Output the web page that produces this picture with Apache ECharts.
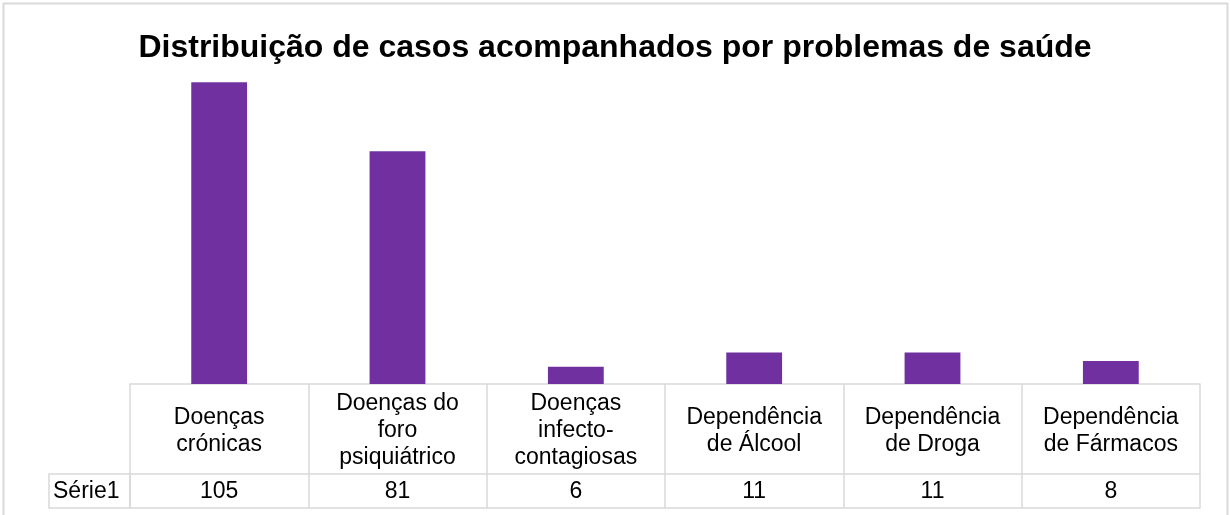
<!DOCTYPE html>
<html>
<head>
<meta charset="utf-8">
<script src="https://cdn.jsdelivr.net/npm/echarts@6/dist/echarts.min.js"></script>
<style>
  html, body { margin: 0; padding: 0; background: #fff; }
  #chart { width: 1230px; height: 515px; }
</style>
</head>
<body>
<div id="chart"></div>
<script>
// Categories of health problems and the number of followed cases in each
const titleText = 'Distribuição de casos acompanhados por problemas de saúde';
const seriesName = 'Série1';
const categories = [
  'Doenças\ncrónicas',
  'Doenças do\nforo\npsiquiátrico',
  'Doenças\ninfecto-\ncontagiosas',
  'Dependência\nde Álcool',
  'Dependência\nde Droga',
  'Dependência\nde Fármacos'
];
const values = [105, 81, 6, 11, 11, 8];

const FONT = '"Liberation Sans", Arial, sans-serif';
const GRID_COLOR = '#d9d9d9';
const BAR_COLOR = '#7030a0';
const LABEL_SIZE = 23;

const gridLeft = 130, gridRight = 30, gridTop = 39, gridBottom = 131;
const headerRowHeight = 90;   // category-name row of the data table
const valueRowHeight = 34;    // value row of the data table
const rowHeaderWidth = 81;

const chart = echarts.init(document.getElementById('chart'), null, { renderer: 'canvas' });

chart.setOption({
  animation: false,
  backgroundColor: '#ffffff',
  title: {
    text: titleText,
    left: 'center',
    top: 27,
    textStyle: { fontFamily: FONT, fontSize: 32, fontWeight: 'bold', color: '#000' }
  },
  grid: { left: gridLeft, right: gridRight, top: gridTop, bottom: gridBottom, containLabel: false },
  xAxis: [
    {
      // category names row; ticks run down through the whole table as column dividers
      type: 'category',
      position: 'bottom',
      data: categories,
      axisLine: { show: true, lineStyle: { color: GRID_COLOR, width: 1.5 } },
      axisTick: { show: true, interval: 0, length: headerRowHeight + valueRowHeight, lineStyle: { color: GRID_COLOR, width: 1.5 } },
      axisLabel: {
        interval: 0, margin: headerRowHeight / 2 + 2, verticalAlign: 'middle', align: 'center',
        fontFamily: FONT, fontSize: LABEL_SIZE, lineHeight: 27, color: '#000'
      }
    },
    {
      // value row of the data table
      type: 'category',
      position: 'bottom',
      offset: headerRowHeight,
      data: values.map(String),
      axisLine: { show: true, lineStyle: { color: GRID_COLOR, width: 1.5 } },
      axisTick: { show: false },
      axisLabel: {
        interval: 0, margin: valueRowHeight / 2 + 1, verticalAlign: 'middle', align: 'center',
        fontFamily: FONT, fontSize: LABEL_SIZE, color: '#000'
      }
    },
    {
      // bottom edge of the data table
      type: 'category',
      position: 'bottom',
      offset: headerRowHeight + valueRowHeight,
      data: categories,
      axisLine: { show: true, lineStyle: { color: GRID_COLOR, width: 1.5 } },
      axisTick: { show: false },
      axisLabel: { show: false }
    }
  ],
  yAxis: {
    type: 'value',
    min: 0,
    max: 120,
    show: false
  },
  series: [{
    name: seriesName,
    type: 'bar',
    xAxisIndex: 0,
    data: values,
    barWidth: '31.3%',
    itemStyle: { color: BAR_COLOR }
  }],
  graphic: [
    {
      // outer chart border
      type: 'rect',
      silent: true,
      shape: { x: 3.5, y: 3.5, width: 1224, height: 540 },
      style: { fill: null, stroke: GRID_COLOR, lineWidth: 2 }
    },
    {
      // row header cell for the series name
      type: 'rect',
      silent: true,
      shape: {
        x: gridLeft - rowHeaderWidth,
        y: 515 - gridBottom + headerRowHeight,
        width: rowHeaderWidth,
        height: valueRowHeight
      },
      style: { fill: null, stroke: GRID_COLOR, lineWidth: 1.5 }
    },
    {
      type: 'text',
      silent: true,
      x: gridLeft - rowHeaderWidth + 4,
      y: 515 - gridBottom + headerRowHeight + valueRowHeight / 2 + 1,
      style: {
        text: seriesName,
        fontFamily: FONT, fontSize: LABEL_SIZE, fill: '#000',
        verticalAlign: 'middle', align: 'left'
      }
    }
  ]
});
</script>
</body>
</html>
